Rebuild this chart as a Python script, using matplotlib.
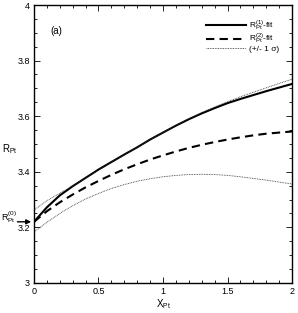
import numpy as np
import matplotlib
matplotlib.use('Agg')
import matplotlib.pyplot as plt
from matplotlib.ticker import MultipleLocator

plt.rcParams['font.family'] = ['Liberation Sans', 'DejaVu Sans']
plt.rcParams['mathtext.fontset'] = 'custom'
plt.rcParams['mathtext.rm'] = 'Liberation Sans'
plt.rcParams['mathtext.it'] = 'Liberation Sans'

# values
x_pt = [0.0, 0.1, 0.2, 0.3, 0.4, 0.5, 0.6, 0.7, 0.8, 0.9, 1.0,
        1.1, 1.2, 1.3, 1.4, 1.5, 1.6, 1.7, 1.8, 1.9, 2.0]
fit1 = [3.220, 3.272, 3.315, 3.348, 3.378, 3.408, 3.435, 3.462, 3.488, 3.516, 3.541,
        3.566, 3.589, 3.610, 3.629, 3.647, 3.662, 3.676, 3.690, 3.703, 3.716]
fit2 = [3.220, 3.258, 3.290, 3.318, 3.344, 3.367, 3.389, 3.409, 3.427, 3.444, 3.459,
        3.473, 3.486, 3.497, 3.507, 3.516, 3.524, 3.531, 3.537, 3.541, 3.545]
sigma_up = [3.262, 3.296, 3.323, 3.349, 3.377, 3.406, 3.434, 3.461, 3.488, 3.515, 3.541,
            3.567, 3.591, 3.613, 3.633, 3.652, 3.670, 3.686, 3.702, 3.718, 3.733]
sigma_lo = [3.183, 3.218, 3.250, 3.278, 3.302, 3.322, 3.340, 3.354, 3.366, 3.375, 3.382,
            3.387, 3.390, 3.391, 3.390, 3.387, 3.382, 3.376, 3.370, 3.363, 3.356]
r0 = 3.22

fig = plt.figure(figsize=(2.98, 3.13), dpi=100)
ax = fig.add_axes([0.114, 0.096, 0.866, 0.888])

ax.plot(x_pt, fit1, color='black', lw=1.5, label=r'$\mathrm{R_{Pt}^{(1)}}$-fit')
ax.plot(x_pt, fit2, color='black', lw=1.5, dashes=(4, 2.5), label=r'$\mathrm{R_{Pt}^{(2)}}$-fit')
ax.plot(x_pt, sigma_up, color='#333333', lw=0.6, dashes=(1, 1), label='(+/- 1 σ)')
ax.plot(x_pt, sigma_lo, color='#333333', lw=0.6, dashes=(1, 1))

ax.set_xlim(0, 2)
ax.set_ylim(3, 4)
ax.xaxis.set_minor_locator(MultipleLocator(0.1))
ax.yaxis.set_minor_locator(MultipleLocator(0.05))
ax.set_xticks([0, 0.5, 1, 1.5, 2])
ax.set_xticklabels(['0', '0.5', '1', '1.5', '2'])
ax.set_yticks([3, 3.2, 3.4, 3.6, 3.8, 4])
ax.set_yticklabels(['3', '3.2', '3.4', '3.6', '3.8', '4'])
ax.tick_params(which='both', direction='in', top=True, right=True, labelsize=6.5, pad=3)
ax.tick_params(which='major', length=4, width=0.6)
ax.tick_params(which='minor', length=2.5, width=0.6)
for s in ax.spines.values():
    s.set_linewidth(1.0)

ax.set_xlabel(r'$\mathrm{X_{Pt}}$', fontsize=7, labelpad=1)
ax.text(-0.125, 0.48, r'$\mathrm{R_{Pt}}$', transform=ax.transAxes, fontsize=7,
        ha='left', va='center')
ax.text(0.065, 0.895, '(a)', transform=ax.transAxes, fontsize=7)

# arrow marking R_Pt^(0)
ax.annotate('', xy=(0, r0), xytext=(-0.075, r0), xycoords='data',
            textcoords=('axes fraction', 'data'),
            arrowprops=dict(arrowstyle='-|>', color='black', lw=1.0, mutation_scale=7),
            annotation_clip=False)
ax.text(-0.128, r0 + 0.004, r'$\mathrm{R_{Pt}^{(0)}}$', transform=ax.get_yaxis_transform(),
        fontsize=6.5, ha='left', va='baseline')

ax.legend(loc='upper right', frameon=False, fontsize=6, handlelength=4.8,
          handletextpad=0.3, labelspacing=-0.1, borderaxespad=1.2)

fig.savefig('out.png', dpi=100)
